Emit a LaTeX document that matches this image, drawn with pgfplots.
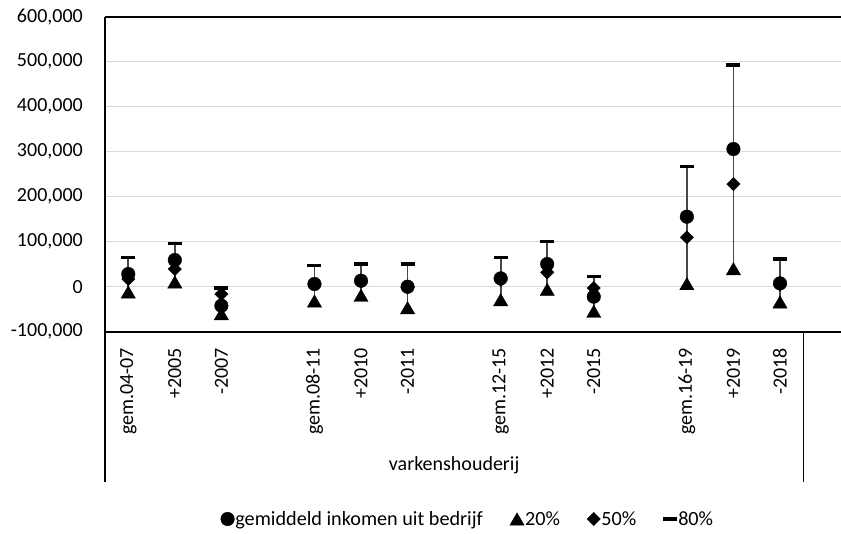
\documentclass[border=0pt]{standalone}
\usepackage{fontspec}
\setmainfont{Carlito}
\usepackage{pgfplots}
\pgfplotsset{compat=1.18}
\newcommand{\fs}{\fontsize{20}{24}\selectfont}
\begin{document}
\begin{tikzpicture}
\begin{axis}[name=ax,
  scale only axis, width=736pt, height=315pt,
  xmin=-0.5, xmax=15.311,
  ymin=-100000, ymax=600000,
  scaled y ticks=false,
  axis line style={draw=none},
  ytick={-100000,0,100000,200000,300000,400000,500000,600000},
  yticklabels={{-100,000},{0},{100,000},{200,000},{300,000},{400,000},{500,000},{600,000}},
  xtick={0,1,2,4,5,6,8,9,10,12,13,14},
  xticklabels={gem.04-07,+2005,-2007,gem.08-11,+2010,-2011,gem.12-15,+2012,-2015,gem.16-19,+2019,-2018},
  major tick length=0pt,
  ymajorgrids, grid style={draw=black!15, line width=1.2pt},
  xticklabel style={rotate=90, anchor=east, inner sep=0pt, font=\fs},
  xticklabel shift=16pt,
  yticklabel style={anchor=east, inner sep=0pt, font=\fs},
  yticklabel shift=22pt,
  clip=false,
  legend style={at={(0.4925,-0.5946)}, anchor=center, draw=none, fill=none,
    font=\fontsize{20.2}{22}\selectfont,
    /tikz/every even column/.append style={column sep=26pt},
    nodes={inner sep=1pt}},
  legend columns=-1,
  legend image code/.code={\draw[mark repeat=2,mark phase=2,#1] plot coordinates {(0pt,0pt) (7.5pt,0pt) (15pt,0pt)};},
]
% high-low lines (20% to 80%)
\addplot[forget plot, draw=black!72, line width=1.8pt, unbounded coords=jump] coordinates {
 (0,-11800) (0,65000) (0,nan)
 (1,10400) (1,96300) (1,nan)
 (2,-60000) (2,-2900) (2,nan)
 (4,-31800) (4,46700) (4,nan)
 (5,-19300) (5,50400) (5,nan)
 (6,-46700) (6,50400) (6,nan)
 (8,-28900) (8,65200) (8,nan)
 (9,-6000) (9,100700) (9,nan)
 (10,-54800) (10,22200) (10,nan)
 (12,6700) (12,267400) (12,nan)
 (13,40000) (13,492600) (13,nan)
 (14,-34000) (14,61500)
};
% borders
\draw[line width=1.6pt] (rel axis cs:0,1) -- (rel axis cs:1,1);
\draw[line width=1.6pt] (rel axis cs:0,0) -- (rel axis cs:1,0);
\draw[line width=1.6pt] (rel axis cs:0,1) -- (rel axis cs:0,0);
\draw[line width=1.1pt] (rel axis cs:0,0) -- ++(0pt,-150pt);
\draw[line width=1.1pt] (axis cs:14.5,-100000) -- ++(0pt,-150pt);
\node[font=\fs] at (axis cs:7,-100000) [yshift=-134pt] {varkenshouderij};

\addplot[black, only marks, mark=*, mark size=6.8pt, mark options={fill=black, draw=black, line width=0.4pt}] coordinates {
 (0,28200) (1,59300) (2,-42200) (4,6000) (5,13300) (6,0) (8,18500) (9,50400) (10,-22200) (12,155600) (13,305900) (14,7400)};
\addlegendentry{gemiddeld inkomen uit bedrijf}
\addplot[black, only marks, mark=triangle*, mark size=8.2pt, mark options={fill=black, draw=black, line width=0.4pt, yshift=-2pt}] coordinates {
 (0,-11800) (1,10400) (2,-60000) (4,-31800) (5,-19300) (6,-46700) (8,-28900) (9,-6000) (10,-54800) (12,6700) (13,40000) (14,-34000)};
\addlegendentry{20\%}
\addplot[black, only marks, mark=square*, mark size=4.7pt, mark options={rotate=45, fill=black, draw=black, line width=0.4pt}] coordinates {
 (0,17000) (1,39300) (2,-16300) (4,5000) (5,12000) (6,-2000) (8,15000) (9,31900) (10,-2900) (12,109600) (13,228100) (14,5000)};
\addlegendentry{50\%}
\addplot[black, only marks, mark=-, mark size=7pt, mark options={line width=3.5pt, draw=black}] coordinates {
 (0,65000) (1,96300) (2,-2900) (4,46700) (5,50400) (6,50400) (8,65200) (9,100700) (10,22200) (12,267400) (13,492600) (14,61500)};
\addlegendentry{80\%}
\end{axis}
\pgfresetboundingbox
\path ([xshift=-105pt,yshift=-201.3pt]ax.south west) rectangle ([yshift=16.7pt]ax.north east);
\end{tikzpicture}
\end{document}
